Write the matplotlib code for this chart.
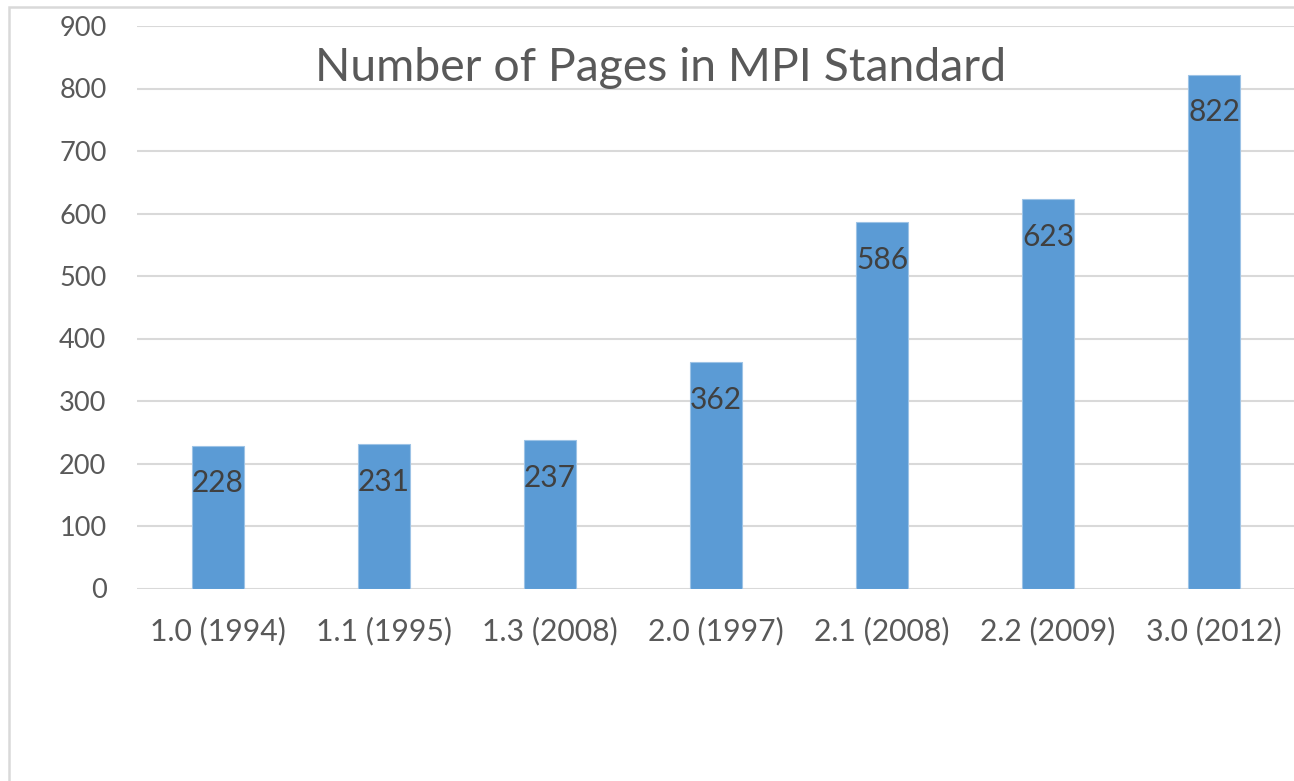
import matplotlib
matplotlib.use("Agg")
import matplotlib.pyplot as plt
from matplotlib.patches import Rectangle

categories = ["1.0 (1994)", "1.1 (1995)", "1.3 (2008)", "2.0 (1997)",
              "2.1 (2008)", "2.2 (2009)", "3.0 (2012)"]
pages = [228, 231, 237, 362, 586, 623, 822]
yticks = [0, 100, 200, 300, 400, 500, 600, 700, 800, 900]
title = "Number of Pages in MPI Standard"

plt.rcParams['font.family'] = ['Lato', 'DejaVu Sans']

W, H = 1294, 781
fig = plt.figure(figsize=(W / 100, H / 100), dpi=100)

# outer chart border (grey frame)
fig.patches.append(Rectangle((9 / W, -0.1), 1.2, (H - 7) / H + 0.1,
                             transform=fig.transFigure, fill=False,
                             edgecolor="#D9D9D9", linewidth=1.8))

left, right = 137, 1294
top, bottom = 26, 588.5
ax = fig.add_axes([left / W, 1 - bottom / H, (right - left) / W, (bottom - top) / H])

x = list(range(len(categories)))
bars = ax.bar(x, pages, width=0.313, color="#5B9BD5", edgecolor="#9DC3E6",
              linewidth=0.8, zorder=3)

ax.set_xlim(-0.488, 6.482)
ax.set_ylim(0, 900)
ax.set_yticks(yticks)
ax.set_xticks(x)
ax.set_xticklabels(categories)
ax.grid(axis="y", color="#D9D9D9", linewidth=1.5, zorder=0)
ax.set_axisbelow(True)
for s in ax.spines.values():
    s.set_visible(False)
ax.tick_params(axis="both", length=0, labelcolor="#595959")
ax.tick_params(axis="y", pad=22, labelsize=19.5)
ax.tick_params(axis="x", pad=20, labelsize=21.7)
for t in ax.get_yticklabels():
    t.set_horizontalalignment("right")

for xi, v in zip(x, pages):
    ax.annotate(str(v), (xi, v), xytext=(0, -27), textcoords="offset points",
                ha="center", va="center", fontsize=21.5, color="#404040", zorder=4)

fig.text(661 / W, 1 - 68 / H, title, ha="center", va="center",
         fontsize=33.4, color="#595959")

fig.savefig("out.png", dpi=100)
